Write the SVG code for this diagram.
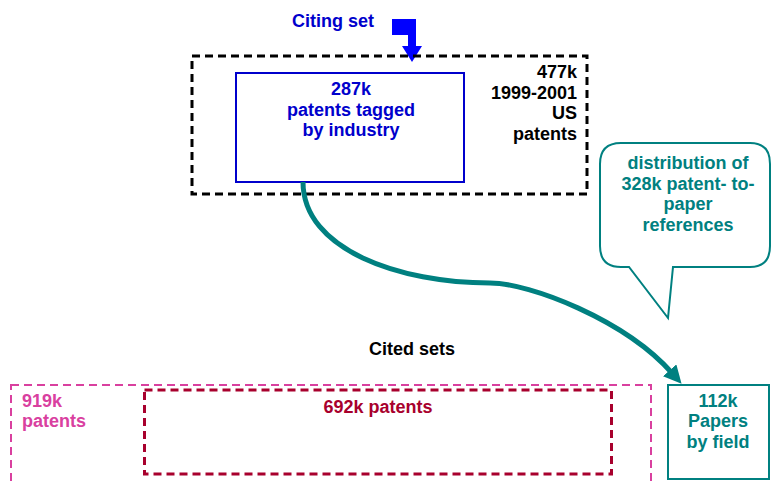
<svg xmlns="http://www.w3.org/2000/svg" width="771" height="485" viewBox="0 0 771 485">
<defs>
<style>
text{font-family:"Liberation Sans",Arial,sans-serif;font-weight:bold;font-size:18px}
.blue{fill:#0000cc}
.blk{fill:#000}
.teal{fill:#008080}
.pink{fill:#d9409f}
.dred{fill:#a8002d}
.mid{text-anchor:middle}
.end{text-anchor:end}
</style>
<marker id="ah" viewBox="0 0 10 10" refX="2" refY="5" markerWidth="3.6" markerHeight="3.6" orient="auto" markerUnits="strokeWidth">
<path d="M0,0 L10,5 L0,10 Z" fill="#008080"/>
</marker>
</defs>
<rect width="771" height="485" fill="#fff"/>

<g id="citing-label">
<text class="blue" x="292" y="27">Citing set</text>
<polygon points="392,19 416,19 416,46 422,46 412,62 402,46 408,46 408,35 392,35" fill="#0000ff"/>
</g>

<g id="us-patents">
<rect x="192" y="56" width="395" height="138" fill="none" stroke="#000" stroke-width="3" stroke-dasharray="8,5"/>
<text class="blk end" x="577" y="78">477k</text>
<text class="blk end" x="577" y="98.5">1999-2001</text>
<text class="blk end" x="577" y="119">US</text>
<text class="blk end" x="577" y="139.5">patents</text>
</g>

<g id="tagged-patents">
<rect x="236" y="73" width="228" height="109" fill="#fff" stroke="#0000cc" stroke-width="2"/>
<text class="blue mid" x="351" y="95">287k</text>
<text class="blue mid" x="351" y="115.5">patents tagged</text>
<text class="blue mid" x="351" y="136">by industry</text>
</g>

<g id="callout">
<path d="M621,143 H750 Q770,143 770,164 V246 Q770,267 750,267 H673 L668,318 L629,267 H621 Q600,267 600,246 V164 Q600,143 621,143 Z" fill="#fff" stroke="#008080" stroke-width="2"/>
<text class="teal mid" x="688" y="169">distribution of</text>
<text class="teal mid" x="688" y="190">328k patent- to-</text>
<text class="teal mid" x="688" y="210">paper</text>
<text class="teal mid" x="688" y="231">references</text>
</g>

<g id="cited-label">
<text class="blk" x="369" y="355">Cited sets</text>
</g>

<g id="patents-919k">
<rect x="11" y="385" width="640" height="110" fill="none" stroke="#d9409f" stroke-width="2" stroke-dasharray="8,5"/>
<text class="pink" x="22" y="407">919k</text>
<text class="pink" x="22" y="427">patents</text>
</g>

<g id="patents-692k">
<rect x="144.5" y="390" width="467" height="84" fill="none" stroke="#a8002d" stroke-width="3" stroke-dasharray="8,5"/>
<text class="dred mid" x="378" y="413">692k patents</text>
</g>

<g id="papers">
<rect x="668" y="385" width="101" height="94" fill="#fff" stroke="#008080" stroke-width="2"/>
<text class="teal mid" x="718" y="407">112k</text>
<text class="teal mid" x="718" y="427">Papers</text>
<text class="teal mid" x="718" y="448">by field</text>
</g>

<g id="connectors">
<path d="M303,182 C303,250 400,283 490,283 C530,283 625,320 672,373" fill="none" stroke="#008080" stroke-width="5" marker-end="url(#ah)"/>
</g>
</svg>
